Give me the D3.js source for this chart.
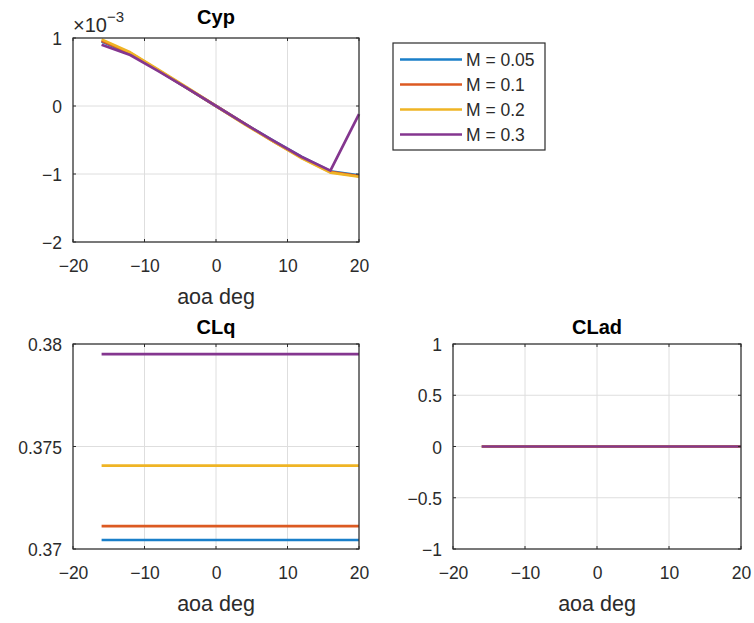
<!DOCTYPE html>
<html>
<head>
<meta charset="utf-8">
<script src="https://cdn.jsdelivr.net/npm/d3@7"></script>
<style>
  html, body { margin: 0; padding: 0; background: #fff; }
  svg { display: block; font-family: "Liberation Sans", Arial, sans-serif; }
</style>
</head>
<body>
<svg id="fig" width="754" height="623"></svg>
<script>
// Angle of attack breakpoints (deg)
const aoa = [-16, -12, -8, -4, 0, 4, 8, 12, 16, 20];

// Mach numbers and line colours
const machLabels = ["M = 0.05", "M = 0.1", "M = 0.2", "M = 0.3"];
const colors = ["#1a7fc9", "#dc5a22", "#efb425", "#84368f"];

// Cyp (units of 1e-3), one array per Mach number
const cypM005 = [0.95, 0.77, 0.52, 0.26, 0.00, -0.26, -0.51, -0.75, -0.96, -1.02];
const cypM01  = [0.96, 0.78, 0.52, 0.26, 0.00, -0.26, -0.52, -0.76, -0.97, -1.03];
const cypM02  = [0.98, 0.79, 0.53, 0.27, 0.00, -0.27, -0.52, -0.77, -0.98, -1.04];
const cypM03  = [0.90, 0.75, 0.51, 0.26, 0.00, -0.26, -0.51, -0.75, -0.95, -0.12];

// CLq per Mach number (constant with aoa)
const clqM005 = Array(aoa.length).fill(0.37044);
const clqM01  = Array(aoa.length).fill(0.37112);
const clqM02  = Array(aoa.length).fill(0.37407);
const clqM03  = Array(aoa.length).fill(0.37951);

// CLad per Mach number
const cladM005 = Array(aoa.length).fill(0);
const cladM01  = Array(aoa.length).fill(0);
const cladM02  = Array(aoa.length).fill(0);
const cladM03  = Array(aoa.length).fill(0);

// Tick values
const xTicks = [-20, -10, 0, 10, 20];
const cypTicks = [-2, -1, 0, 1];
const clqTicks = [0.37, 0.375, 0.38];
const cladTicks = [-1, -0.5, 0, 0.5, 1];

const svg = d3.select("#fig");
const axisColor = "#2b2b2b";
const gridColor = "#dedede";
const tickFont = "17.5px";

function panel(opts) {
  const { left, top, width, height, title, titleY, yDomain, yTicks, yFmt, series } = opts;
  const g = svg.append("g").attr("transform", `translate(${left},${top})`);
  const x = d3.scaleLinear().domain([-20, 20]).range([0, width]);
  const y = d3.scaleLinear().domain(yDomain).range([height, 0]);

  // grid
  g.append("g").selectAll("line").data(xTicks).join("line")
    .attr("x1", d => x(d)).attr("x2", d => x(d))
    .attr("y1", 0).attr("y2", height)
    .attr("stroke", gridColor).attr("stroke-width", 1);
  g.append("g").selectAll("line").data(yTicks).join("line")
    .attr("y1", d => y(d)).attr("y2", d => y(d))
    .attr("x1", 0).attr("x2", width)
    .attr("stroke", gridColor).attr("stroke-width", 1);

  // data lines
  const line = d3.line().x((d, i) => x(aoa[i])).y(d => y(d));
  series.forEach((s, k) => {
    g.append("path").datum(s)
      .attr("d", line)
      .attr("fill", "none")
      .attr("stroke", colors[k])
      .attr("stroke-width", 2.7)
      .attr("stroke-linejoin", "round");
  });

  // axes
  const xAxis = d3.axisBottom(x).tickValues(xTicks).tickSize(0).tickPadding(18);
  const yAxis = d3.axisLeft(y).tickValues(yTicks).tickSize(0).tickPadding(11).tickFormat(yFmt);
  const gx = g.append("g").attr("transform", `translate(0,${height})`).call(xAxis);
  const gy = g.append("g").call(yAxis);
  [gx, gy].forEach(a => {
    a.select(".domain").remove();
    a.selectAll("text").attr("fill", axisColor).style("font-size", tickFont)
      .style("font-family", "'Liberation Sans', Arial, sans-serif");
  });
  gy.selectAll("text").attr("dy", "0.38em");

  // small inward tick marks
  g.append("g").selectAll("line").data(xTicks).join("line")
    .attr("x1", d => x(d)).attr("x2", d => x(d))
    .attr("y1", height).attr("y2", height - 3).attr("stroke", axisColor);
  g.append("g").selectAll("line").data(xTicks).join("line")
    .attr("x1", d => x(d)).attr("x2", d => x(d))
    .attr("y1", 0).attr("y2", 3).attr("stroke", axisColor);
  g.append("g").selectAll("line").data(yTicks).join("line")
    .attr("y1", d => y(d)).attr("y2", d => y(d))
    .attr("x1", 0).attr("x2", 3).attr("stroke", axisColor);
  g.append("g").selectAll("line").data(yTicks).join("line")
    .attr("y1", d => y(d)).attr("y2", d => y(d))
    .attr("x1", width).attr("x2", width - 3).attr("stroke", axisColor);

  // box
  g.append("rect").attr("x", 0).attr("y", 0).attr("width", width).attr("height", height)
    .attr("fill", "none").attr("stroke", axisColor).attr("stroke-width", 1.2);

  // title and x label
  g.append("text").attr("x", width / 2).attr("y", titleY)
    .attr("text-anchor", "middle").attr("fill", "#000")
    .style("font-size", "20px").style("font-weight", "bold").text(title);
  g.append("text").attr("x", width / 2).attr("y", height + 62)
    .attr("text-anchor", "middle").attr("fill", axisColor)
    .style("font-size", "21.5px").text("aoa deg");
  return g;
}

// Cyp panel (title raised above the exponent label)
const gCyp = panel({
  left: 73, top: 38, width: 286, height: 204, title: "Cyp", titleY: -14,
  yDomain: [-2, 1], yTicks: cypTicks, yFmt: d3.format("d"),
  series: [cypM005, cypM01, cypM02, cypM03]
});
// exponent label
const expo = gCyp.append("text").attr("x", 0).attr("y", -6).attr("fill", axisColor)
  .style("font-size", "20px");
expo.append("tspan").text("\u00d710");
expo.append("tspan").attr("dy", -10).style("font-size", "15px").text("\u22123");

// CLq panel
panel({
  left: 73, top: 344, width: 286, height: 205, title: "CLq", titleY: -10,
  yDomain: [0.37, 0.38], yTicks: clqTicks, yFmt: d => String(+d.toFixed(3)),
  series: [clqM005, clqM01, clqM02, clqM03]
});

// CLad panel
panel({
  left: 453, top: 344, width: 288, height: 205, title: "CLad", titleY: -10,
  yDomain: [-1, 1], yTicks: cladTicks, yFmt: d => d3.format("")(d),
  series: [cladM005, cladM01, cladM02, cladM03]
});

// legend
const leg = svg.append("g").attr("transform", "translate(393,43)");
leg.append("rect").attr("x", 0).attr("y", 0).attr("width", 152).attr("height", 107)
  .attr("fill", "#fff").attr("stroke", axisColor).attr("stroke-width", 1.2);
machLabels.forEach((lab, i) => {
  const yy = 16.5 + i * 25;
  leg.append("line").attr("x1", 7).attr("x2", 69).attr("y1", yy).attr("y2", yy)
    .attr("stroke", colors[i]).attr("stroke-width", 2.7);
  leg.append("text").attr("x", 73).attr("y", yy).attr("dy", "0.36em")
    .attr("fill", axisColor).style("font-size", "17.5px").text(lab);
});
</script>
</body>
</html>
